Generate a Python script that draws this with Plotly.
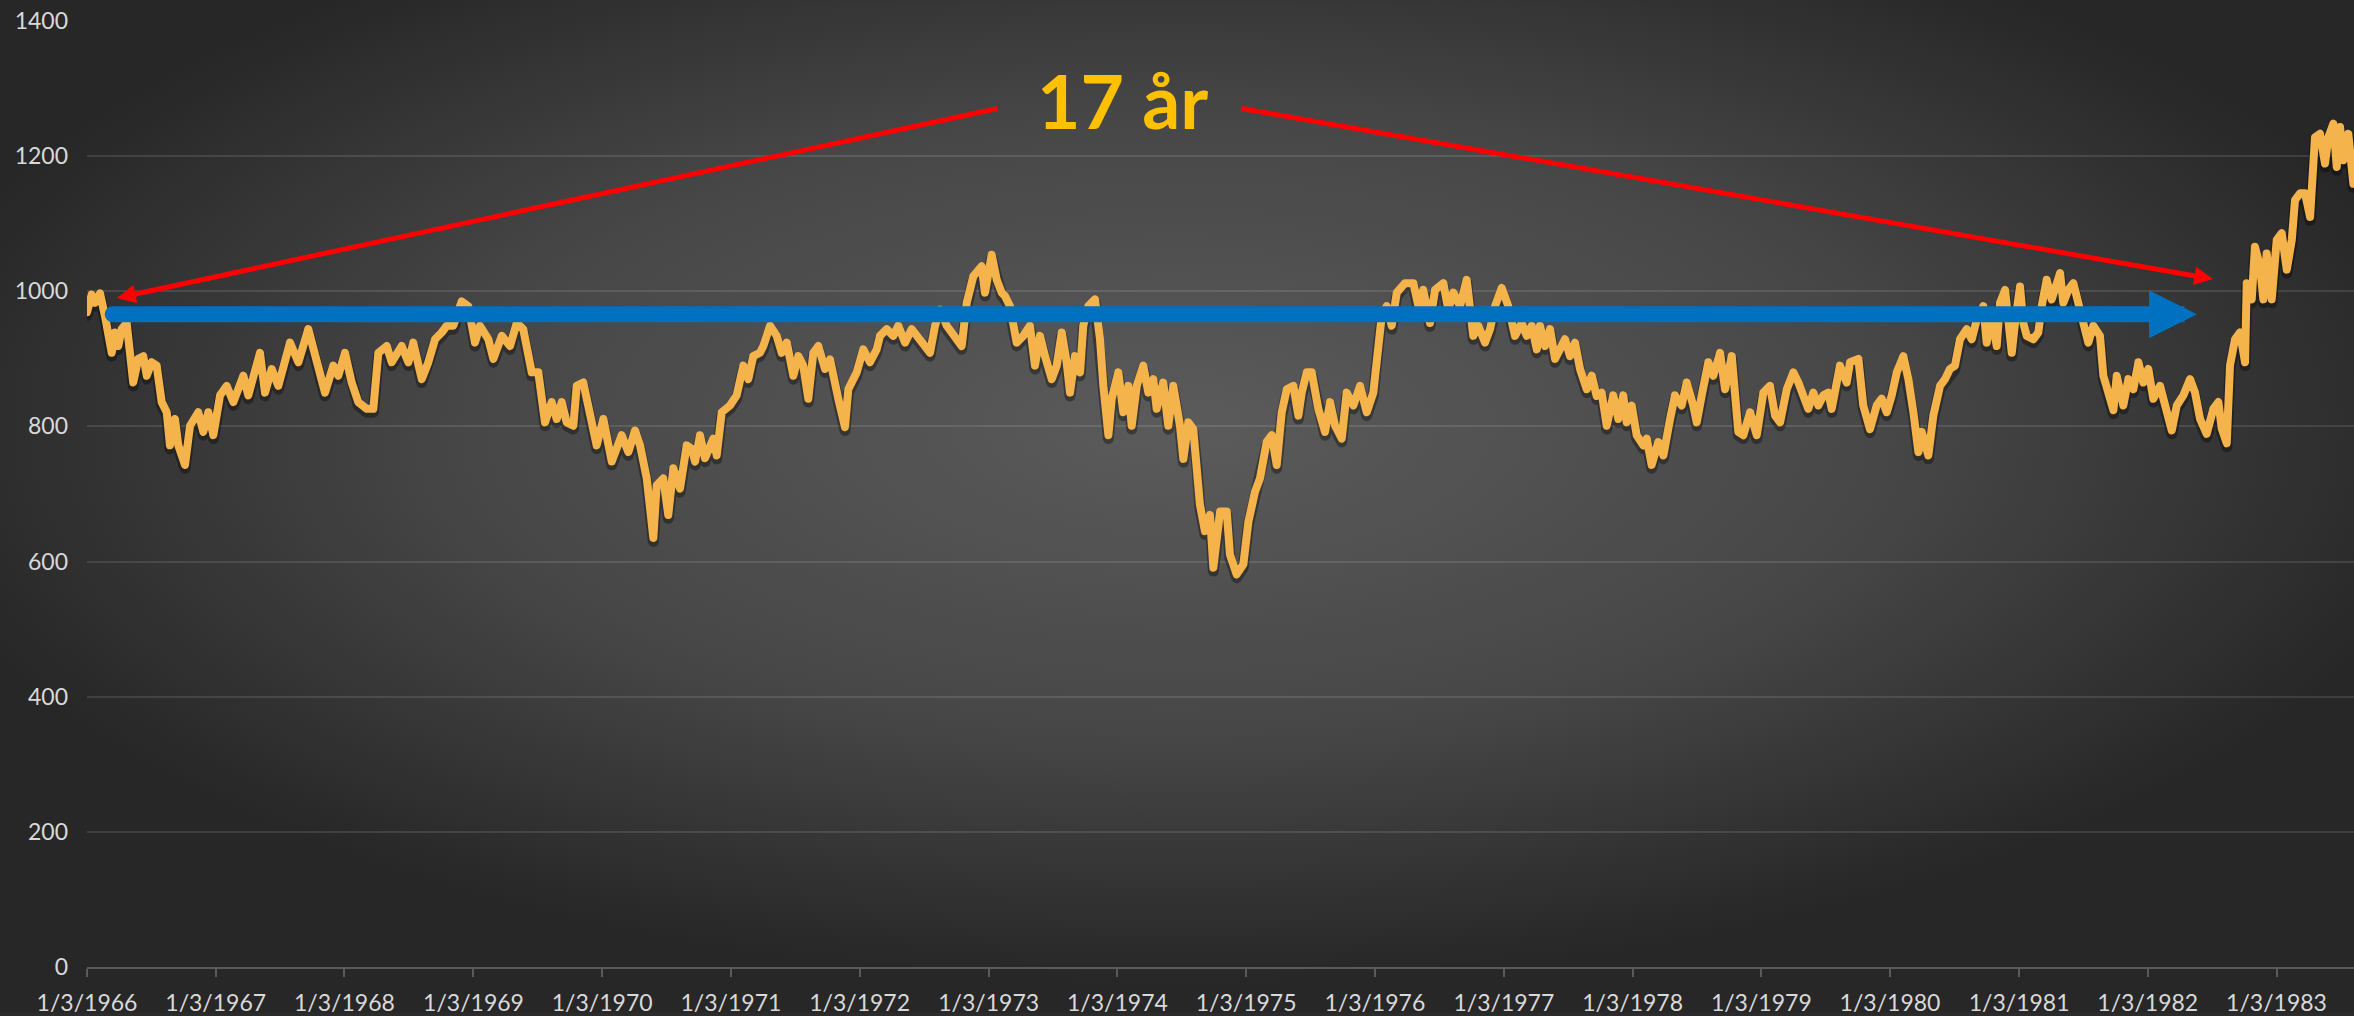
import base64
import pandas as pd
import plotly.graph_objects as go

# ---------------- data ----------------
START = pd.Timestamp("1966-01-03")
# time in years after 1/3/1966
t_years = [
    0.000, 0.036, 0.062, 0.101, 0.140, 0.165, 0.192, 0.217, 0.243, 0.269, 0.308, 0.359, 0.398, 0.437, 0.464, 0.502, 0.541, 0.580, 0.619, 0.644, 0.683, 0.709, 0.761, 0.800, 0.864, 0.903, 0.942, 0.981,
    1.033, 1.085, 1.136, 1.214, 1.252, 1.343, 1.382, 1.434, 1.485, 1.576, 1.641, 1.718, 1.809, 1.848, 1.912, 1.951,
    2.003, 2.055, 2.106, 2.172, 2.223, 2.262, 2.327, 2.366, 2.443, 2.495, 2.533, 2.599, 2.650, 2.702, 2.754, 2.793, 2.844, 2.909, 2.960,
    3.012, 3.051, 3.116, 3.155, 3.220, 3.284, 3.336, 3.387, 3.453, 3.504, 3.556, 3.608, 3.647, 3.686, 3.724, 3.776, 3.802, 3.853, 3.905, 3.957,
    4.009, 4.074, 4.151, 4.203, 4.255, 4.294, 4.346, 4.397, 4.423, 4.474, 4.513, 4.552, 4.604, 4.656, 4.695, 4.721, 4.759, 4.798, 4.863, 4.889, 4.928, 4.992,
    5.044, 5.096, 5.134, 5.173, 5.225, 5.251, 5.303, 5.355, 5.394, 5.433, 5.484, 5.523, 5.561, 5.600, 5.639, 5.678, 5.730, 5.769, 5.833, 5.885, 5.911, 5.976,
    6.027, 6.079, 6.131, 6.157, 6.209, 6.260, 6.299, 6.351, 6.403, 6.467, 6.545, 6.584, 6.623, 6.675, 6.739, 6.791, 6.830, 6.881, 6.946, 6.972,
    7.024, 7.063, 7.102, 7.127, 7.166, 7.192, 7.218, 7.269, 7.321, 7.360, 7.399, 7.438, 7.490, 7.529, 7.568, 7.606, 7.632, 7.671, 7.710, 7.735, 7.774, 7.826, 7.865, 7.891, 7.930, 7.956,
    8.007, 8.046, 8.085, 8.111, 8.150, 8.201, 8.240, 8.279, 8.305, 8.356, 8.395, 8.434, 8.486, 8.512, 8.551, 8.589, 8.616, 8.641, 8.680, 8.719, 8.745, 8.797, 8.849, 8.874, 8.926, 8.978,
    9.017, 9.068, 9.107, 9.159, 9.198, 9.237, 9.276, 9.315, 9.366, 9.405, 9.431, 9.470, 9.509, 9.534, 9.560, 9.612, 9.651, 9.690, 9.742, 9.780, 9.832, 9.884, 9.936, 9.987,
    10.026, 10.052, 10.091, 10.130, 10.169, 10.233, 10.298, 10.337, 10.375, 10.427, 10.466, 10.531, 10.569, 10.608, 10.660, 10.712, 10.763, 10.802, 10.854, 10.893, 10.932, 10.984,
    11.035, 11.087, 11.139, 11.178, 11.217, 11.256, 11.281, 11.320, 11.359, 11.398, 11.475, 11.514, 11.553, 11.592, 11.644, 11.683, 11.721, 11.760, 11.799, 11.850, 11.889, 11.928, 11.954, 11.993,
    12.032, 12.083, 12.110, 12.148, 12.200, 12.239, 12.291, 12.329, 12.381, 12.420, 12.471, 12.498, 12.537, 12.588, 12.627, 12.679, 12.718, 12.770, 12.821, 12.860, 12.912, 12.964,
    13.015, 13.067, 13.106, 13.145, 13.197, 13.248, 13.287, 13.326, 13.364, 13.403, 13.442, 13.481, 13.520, 13.546, 13.585, 13.610, 13.662, 13.688, 13.753, 13.791, 13.843, 13.895, 13.934, 13.973,
    14.012, 14.051, 14.102, 14.141, 14.180, 14.219, 14.245, 14.296, 14.335, 14.387, 14.426, 14.464, 14.503, 14.542, 14.594, 14.633, 14.672, 14.723, 14.749, 14.788, 14.827, 14.853, 14.892, 14.917, 14.944, 14.969,
    15.008, 15.034, 15.060, 15.111, 15.150, 15.176, 15.215, 15.254, 15.293, 15.319, 15.344, 15.383, 15.422, 15.487, 15.538, 15.577, 15.629, 15.655, 15.694, 15.733, 15.759, 15.810, 15.849, 15.888, 15.927, 15.965,
    16.004, 16.043, 16.095, 16.147, 16.186, 16.225, 16.276, 16.328, 16.367, 16.406, 16.457, 16.509, 16.548, 16.574, 16.613, 16.638, 16.677, 16.716, 16.755, 16.768, 16.807, 16.832, 16.871, 16.897, 16.923, 16.962,
    17.001, 17.040, 17.079, 17.118, 17.143, 17.182, 17.221, 17.260, 17.298, 17.337, 17.376, 17.402, 17.441, 17.467, 17.493, 17.518, 17.557, 17.596,
]
index_values = [
    969, 995, 983, 997, 963, 929, 909, 939, 919, 944, 953, 865, 900, 904, 875, 895, 890, 836, 821, 772, 811, 772, 743, 801, 821, 792, 821, 787,
    846, 860, 836, 875, 846, 909, 850, 885, 860, 924, 895, 944, 880, 850, 890, 875,
    909, 865, 836, 826, 826, 909, 919, 895, 919, 895, 924, 870, 895, 929, 939, 949, 949, 985, 978,
    924, 949, 929, 900, 934, 919, 953, 944, 880, 880, 806, 836, 811, 836, 806, 801, 860, 865, 811, 772,
    811, 748, 787, 762, 794, 772, 723, 635, 713, 723, 669, 738, 708, 772, 767, 748, 787, 753, 782, 757, 821, 831,
    846, 890, 870, 904, 909, 919, 949, 934, 909, 924, 875, 904, 890, 841, 909, 919, 885, 899, 841, 799, 855, 880,
    914, 895, 914, 934, 944, 934, 949, 924, 944, 929, 909, 949, 973, 949, 934, 919, 983, 1022, 1037, 998,
    1054, 1017, 998, 993, 978, 949, 924, 934, 949, 890, 934, 904, 870, 890, 939, 895, 850, 904, 880, 949, 978, 988, 929, 860, 787, 841,
    880, 821, 860, 801, 860, 890, 850, 870, 826, 865, 801, 860, 801, 752, 806, 796, 748, 684, 645, 669, 591, 674, 674, 610, 581, 596,
    659, 703, 723, 777, 787, 743, 821, 855, 860, 816, 850, 880, 880, 855, 826, 792, 836, 801, 782, 850, 831, 860, 821, 850,
    924, 963, 978, 949, 998, 1012, 1012, 978, 1002, 953, 1002, 1012, 973, 998, 978, 1017, 934, 949, 924, 944, 978, 1005,
    978, 934, 953, 934, 949, 914, 949, 919, 944, 900, 929, 904, 924, 885, 855, 875, 845, 850, 801, 846, 811, 846, 806, 831,
    787, 772, 782, 743, 777, 757, 811, 846, 831, 865, 831, 806, 846, 895, 875, 909, 855, 904, 792, 787, 821, 787,
    850, 860, 816, 806, 855, 880, 865, 846, 826, 850, 831, 846, 850, 826, 860, 890, 865, 895, 900, 831, 796, 831, 841, 821,
    846, 880, 904, 870, 821, 762, 792, 757, 816, 860, 870, 885, 890, 929, 944, 929, 958, 978, 924, 963, 919, 983, 1002, 953, 909, 953,
    1007, 953, 934, 929, 939, 978, 1017, 988, 1012, 1027, 983, 1002, 1012, 963, 924, 949, 934, 875, 850, 824, 875, 831, 870, 855, 895, 865,
    885, 841, 860, 821, 794, 831, 846, 870, 850, 811, 789, 826, 836, 797, 775, 890, 929, 939, 895, 1012, 988, 1066, 1037, 988, 1056, 988,
    1076, 1086, 1032, 1076, 1135, 1145, 1145, 1110, 1228, 1233, 1189, 1228, 1248, 1184, 1243, 1194, 1233, 1159,
]
tick_years = list(range(1966, 1984))
tick_labels = [f"1/3/{y}" for y in tick_years]
y_ticks = [0, 200, 400, 600, 800, 1000, 1200, 1400]
label_text = "17 år"

# ---------------- helpers ----------------
def yr2date(t):
    return (START + pd.to_timedelta(t * 365.25, unit="D")).strftime("%Y-%m-%d %H:%M")

dates = [yr2date(t) for t in t_years]
tick_dates = [pd.Timestamp(f"{y}-01-03").strftime("%Y-%m-%d") for y in tick_years]

W, H = 2354, 1016
ML, MR, MT, MB = 87, 0, 21, 46
PW, PH = W - ML - MR, H - MT - MB

# radial gradient background as SVG image
svg = (
    f'<svg xmlns="http://www.w3.org/2000/svg" width="{W}" height="{H}" viewBox="0 0 {W} {H}" preserveAspectRatio="none">'
    '<defs><radialGradient id="g" cx="0.5" cy="0.42" r="0.55">'
    '<stop offset="0" stop-color="#5b5b5b"/><stop offset="0.55" stop-color="#474747"/><stop offset="1" stop-color="#272727"/>'
    '</radialGradient></defs>'
    f'<rect width="{W}" height="{H}" fill="url(#g)"/></svg>'
)
bg_src = "data:image/svg+xml;base64," + base64.b64encode(svg.encode()).decode()

fig = go.Figure()

# soft shadow under the line
fig.add_trace(go.Scatter(
    x=dates, y=[v - 5 for v in index_values], mode="lines",
    line=dict(color="rgba(0,0,0,0.35)", width=11), hoverinfo="skip", showlegend=False,
))
fig.add_trace(go.Scatter(
    x=dates, y=index_values, mode="lines",
    line=dict(color="#F5B34B", width=8), showlegend=False,
))

grid = "rgba(255,255,255,0.11)"
fig.update_layout(
    width=W, height=H,
    margin=dict(l=ML, r=MR, t=MT, b=MB, pad=0),
    paper_bgcolor="#2b2b2b",
    plot_bgcolor="rgba(0,0,0,0)",
    showlegend=False,
    font=dict(family="Lato, 'Open Sans', sans-serif", color="#d9d9d9", size=23),
    images=[dict(
        source=bg_src, xref="paper", yref="paper",
        x=-ML / PW, y=1 + MT / PH, sizex=W / PW, sizey=H / PH,
        xanchor="left", yanchor="top", sizing="stretch", layer="below",
    )],
    xaxis=dict(
        type="date",
        range=[yr2date(0), yr2date(17.601)],
        tickmode="array", tickvals=tick_dates, ticktext=tick_labels,
        showgrid=False, zeroline=False,
        showline=True, linecolor="#5a5a5a", linewidth=2,
        ticks="outside", ticklen=8, tickwidth=1.5, tickcolor="#5a5a5a",
        tickfont=dict(size=23, color="#d9d9d9"),
        ticklabelstandoff=6,
    ),
    yaxis=dict(
        range=[0, 1400], tickmode="array", tickvals=y_ticks,
        showgrid=True, gridcolor=grid, gridwidth=2,
        zeroline=False, showline=False, ticks="",
        tickfont=dict(size=23, color="#d9d9d9"),
        ticklabelstandoff=18,
    ),
)

red = "#FF0000"
blue = "#0070C0"
annotations = [
    # left red arrow
    dict(x=yr2date(0.233), y=990, ax=yr2date(7.081), ay=1271, xref="x", yref="y", axref="x", ayref="y",
         text="", showarrow=True, arrowhead=2, arrowsize=0.75, arrowwidth=5, arrowcolor=red, standoff=0),
    # right red arrow
    dict(x=yr2date(16.506), y=1018, ax=yr2date(8.952), ay=1271, xref="x", yref="y", axref="x", ayref="y",
         text="", showarrow=True, arrowhead=2, arrowsize=0.75, arrowwidth=5, arrowcolor=red, standoff=0),
    # blue arrow
    dict(x=yr2date(16.382), y=966, ax=yr2date(0.20), ay=966, xref="x", yref="y", axref="x", ayref="y",
         text="", showarrow=True, arrowhead=2, arrowsize=0.6, arrowwidth=16, arrowcolor=blue, standoff=0),
    # label
    dict(x=yr2date(8.036), y=1283, xref="x", yref="y", text=label_text, showarrow=False,
         font=dict(family="Lato, 'Open Sans', sans-serif", size=75, color="#FFC000", weight=700),
         xanchor="center", yanchor="middle"),
]
fig.update_layout(annotations=annotations)

# rounded start cap of the blue arrow
fig.add_shape(type="circle", xref="x", yref="y", xsizemode="pixel", ysizemode="pixel",
              xanchor=yr2date(0.20), yanchor=966, x0=-8, x1=8, y0=-8, y1=8,
              fillcolor=blue, line=dict(width=0), layer="above")

post = (
    "document.body.style.margin='0';document.body.style.overflow='hidden';"
    "document.querySelectorAll('.scatterlayer path.js-line').forEach(function(p){p.style.strokeLinejoin='round';p.style.strokeLinecap='round';});"
)
fig.write_html("out.html", include_plotlyjs=True, post_script=post,
               config={"displayModeBar": False, "staticPlot": False})
